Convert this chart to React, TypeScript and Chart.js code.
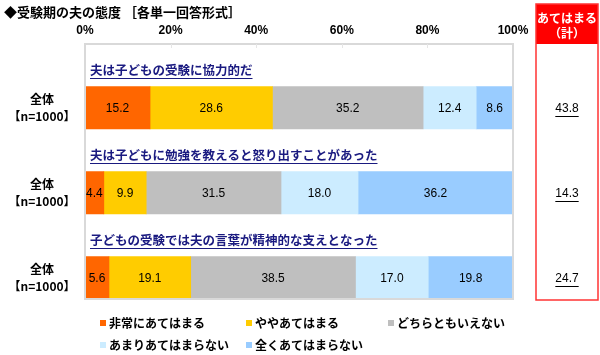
import React, { useEffect, useRef } from "react";
import { Chart, registerables } from "chart.js";

Chart.register(...registerables);

const questions = [
  "夫は子どもの受験に協力的だ",
  "夫は子どもに勉強を教えると怒り出すことがあった",
  "子どもの受験では夫の言葉が精神的な支えとなった",
];
const rowLabel = ["全体", "【n=1000】"];
const seriesNames = ["非常にあてはまる", "ややあてはまる", "どちらともいえない", "あまりあてはまらない", "全くあてはまらない"];
const seriesColors = ["#FF6600", "#FFCC00", "#BFBFBF", "#CCECFF", "#99CCFF"];
const veryTrue = [15.2, 4.4, 5.6];
const somewhatTrue = [28.6, 9.9, 19.1];
const neither = [35.2, 31.5, 38.5];
const notVery = [12.4, 18.0, 17.0];
const notAtAll = [8.6, 36.2, 19.8];
const totals = ["43.8", "14.3", "24.7"];
const xTicks = [0, 20, 40, 60, 80, 100];

const FONT = "'Liberation Sans', 'Noto Sans CJK JP', sans-serif";
const JFONT = "'Noto Sans CJK JP', 'Noto Sans', sans-serif";

export default function App() {
  const ref = useRef<HTMLCanvasElement | null>(null);
  useEffect(() => {
    if (!ref.current) return;
    const allSeries = [veryTrue, somewhatTrue, neither, notVery, notAtAll];
    const labels: string[] = [];
    questions.forEach((q) => {
      labels.push(q);
      labels.push(rowLabel.join(" "));
    });
    const datasets = allSeries.map((s, i) => {
      const data: (number | null)[] = [];
      s.forEach((v) => {
        data.push(null);
        data.push(v);
      });
      return {
        label: seriesNames[i],
        data,
        backgroundColor: seriesColors[i],
        borderWidth: 0,
        barPercentage: 1,
        categoryPercentage: 1,
      };
    });

    const overlay = {
      id: "overlay",
      afterDatasetsDraw(chart: any) {
        const ctx = chart.ctx;
        const ya = chart.scales.y;
        const xa = chart.scales.x;
        const ca = chart.chartArea;
        ctx.save();
        // values inside bars
        ctx.font = `12px ${FONT}`;
        ctx.fillStyle = "#000";
        ctx.textAlign = "center";
        ctx.textBaseline = "middle";
        chart.data.datasets.forEach((ds: any, di: number) => {
          const meta = chart.getDatasetMeta(di);
          meta.data.forEach((bar: any, idx: number) => {
            const v = ds.data[idx];
            if (v == null) return;
            const cx = (bar.x + bar.base) / 2;
            ctx.fillText(v.toFixed(1), cx, bar.y + 1);
          });
        });
        // plot border
        ctx.strokeStyle = "#D9D9D9";
        ctx.lineWidth = 2;
        ctx.strokeRect(ca.left, ca.top, ca.right - ca.left, ca.bottom - ca.top);
        // short inner ticks
        ctx.lineWidth = 1;
        ctx.strokeStyle = "#E6E6E6";
        xTicks.slice(1, -1).forEach((t) => {
          const x = Math.round(xa.getPixelForValue(t)) + 0.5;
          ctx.beginPath();
          ctx.moveTo(x, ca.top);
          ctx.lineTo(x, ca.top + 4);
          ctx.stroke();
        });
        // row labels
        ctx.font = `bold 12px ${JFONT}`;
        ctx.fillStyle = "#000";
        ctx.textAlign = "center";
        questions.forEach((_, i) => {
          const y = ya.getPixelForValue(i * 2 + 1);
          ctx.fillText(rowLabel[0], 42, y - 8);
          ctx.fillText(rowLabel[1], 42, y + 9);
        });
        // question labels
        ctx.font = `bold 12.5px ${JFONT}`;
        ctx.fillStyle = "#1A1A80";
        ctx.strokeStyle = "#1A1A80";
        ctx.textAlign = "left";
        questions.forEach((q, i) => {
          const y = ya.getPixelForValue(i * 2) + 5;
          const x = ca.left + 5;
          ctx.fillText(q, x, y);
          const w = ctx.measureText(q).width;
          ctx.lineWidth = 1;
          ctx.beginPath();
          ctx.moveTo(x, Math.round(y + 8) + 0.5);
          ctx.lineTo(x + w, Math.round(y + 8) + 0.5);
          ctx.stroke();
        });
        // title
        ctx.font = `bold 13px ${JFONT}`;
        ctx.fillStyle = "#000";
        ctx.fillText("◆受験期の夫の態度 ［各単一回答形式］", 4, 12);
        // red box
        const bx = 536, bw = 62, by = 4, bh = 296;
        ctx.fillStyle = "#FF0000";
        ctx.fillRect(bx, by, bw, 40);
        ctx.strokeStyle = "#FF3333";
        ctx.lineWidth = 1.5;
        ctx.strokeRect(bx, by, bw, bh);
        ctx.fillStyle = "#FFFFFF";
        ctx.textAlign = "center";
        ctx.font = `bold 12px ${JFONT}`;
        ctx.fillText("あてはまる", bx + bw / 2, 18);
        ctx.fillText("（計）", bx + bw / 2, 33);
        ctx.fillStyle = "#000";
        ctx.strokeStyle = "#000";
        ctx.font = `12px ${FONT}`;
        totals.forEach((t, i) => {
          const y = ya.getPixelForValue(i * 2 + 1) + 1;
          const cx = bx + bw / 2;
          ctx.fillText(t, cx, y);
          const w = ctx.measureText(t).width;
          ctx.lineWidth = 1;
          ctx.beginPath();
          ctx.moveTo(cx - w / 2, Math.round(y + 7) + 0.5);
          ctx.lineTo(cx + w / 2, Math.round(y + 7) + 0.5);
          ctx.stroke();
        });
        // legend
        const legendPos = [
          [100, 323], [246, 323], [388, 323],
          [100, 345], [246, 345],
        ];
        ctx.textAlign = "left";
        ctx.font = `bold 12px ${JFONT}`;
        seriesNames.forEach((n, i) => {
          const [lx, ly] = legendPos[i];
          ctx.fillStyle = seriesColors[i];
          ctx.fillRect(lx, ly - 3, 6, 6);
          ctx.fillStyle = "#000";
          ctx.fillText(n, lx + 9, ly);
        });
        ctx.restore();
      },
    };

    const chart = new Chart(ref.current, {
      type: "bar",
      data: { labels, datasets: datasets as any },
      options: {
        indexAxis: "y",
        animation: false,
        responsive: false,
        maintainAspectRatio: false,
        layout: { padding: { left: 0, right: 87, top: 0, bottom: 56 } },
        plugins: { legend: { display: false }, tooltip: { enabled: false } },
        scales: {
          x: {
            position: "top",
            stacked: true,
            min: 0,
            max: 100,
            afterFit: (s: any) => { s.height = 44; },
            afterBuildTicks: (s: any) => { s.ticks = xTicks.map((v) => ({ value: v })); },
            ticks: {
              callback: (v: any) => v + "%",
              font: { family: FONT, size: 12, weight: "bold" },
              color: "#000",
              padding: 6,
            },
            grid: { display: false, drawTicks: false },
            border: { display: false },
          },
          y: {
            stacked: true,
            afterFit: (s: any) => { s.width = 85; },
            ticks: { display: false },
            grid: { display: false, drawTicks: false },
            border: { display: false },
          },
        },
      },
      plugins: [overlay],
    });
    return () => chart.destroy();
  }, []);
  return (
    <div style={{ position: "absolute", left: 0, top: 0, width: 600, height: 355, background: "#fff" }}>
      <canvas ref={ref} width={600} height={355} />
    </div>
  );
}
